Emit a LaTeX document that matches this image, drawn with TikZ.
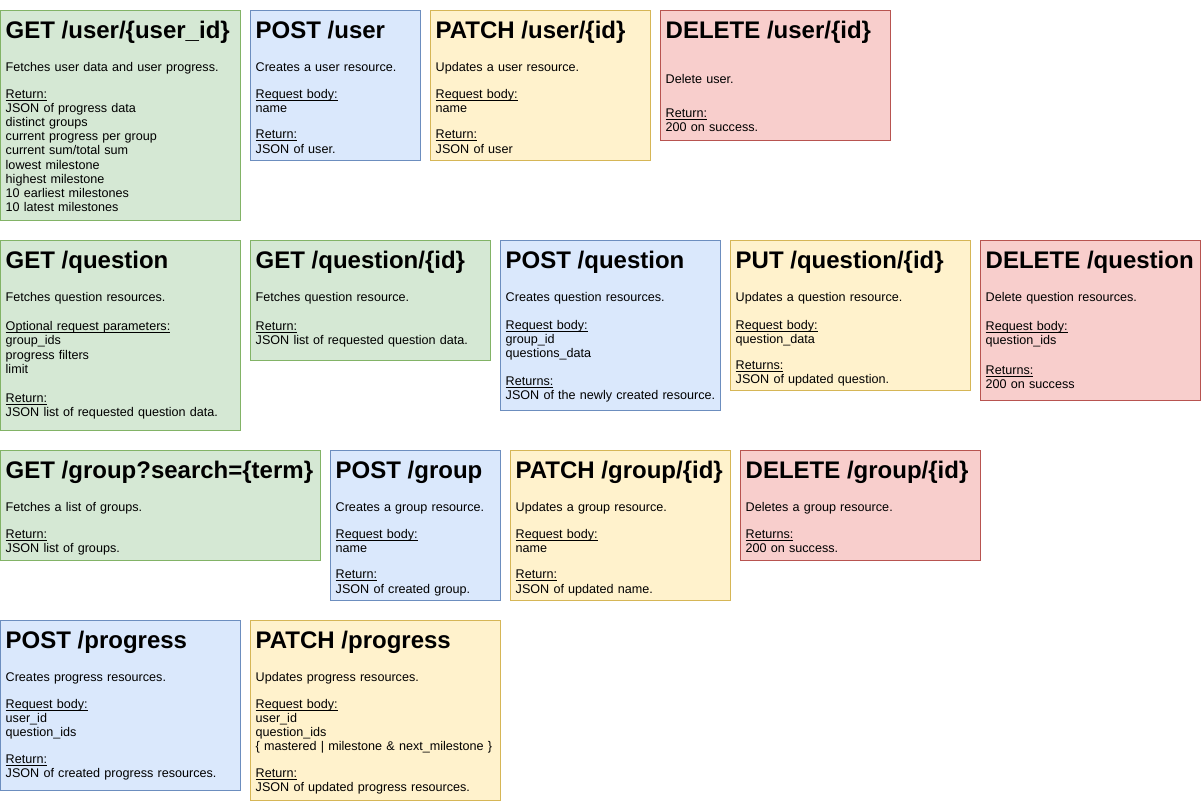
\documentclass[tikz,border=0pt]{standalone}
\usepackage{fontspec}
\setmainfont{Liberation Sans}
\usetikzlibrary{positioning}
\definecolor{getFill}{HTML}{D5E8D4}
\definecolor{getLine}{HTML}{82B366}
\definecolor{postFill}{HTML}{DAE8FC}
\definecolor{postLine}{HTML}{6C8EBF}
\definecolor{patchFill}{HTML}{FFF2CC}
\definecolor{patchLine}{HTML}{D6B656}
\definecolor{delFill}{HTML}{F8CECC}
\definecolor{delLine}{HTML}{B85450}
\newcommand{\fieldlabel}[1]{\leavevmode\setbox0=\hbox{#1}\rlap{\vrule width\wd0 height-1.4pt depth2.4pt}\box0}

\begin{document}
\begin{tikzpicture}[
  api/.style={draw=#1Line,fill=#1Fill,line width=1pt,inner sep=0pt,outer sep=0pt,
    anchor=north west},
  head/.style={font=\fontsize{24}{28}\selectfont\bfseries,inner sep=0pt,
    anchor=base west},
  body/.style={font=\fontsize{12.6}{14.2}\selectfont,align=left,text width=270pt,
    inner sep=0pt,anchor=base west},
]
\useasboundingbox (-0.5pt,0.5pt) rectangle (1200.5pt,-800.5pt);

% User endpoints
\node[api=get,minimum width=240pt,minimum height=210pt] (getuser) at (0pt,-10pt) {};
\node[below right=28pt and 5pt of getuser.north west,head] (getuserH) {GET /user/\{user\_id\}};
\node[below right=61pt and 5pt of getuser.north west,body] (getuserB) {Fetches user data and user progress.\\[12.4pt]
  \fieldlabel{Return:}\\JSON of progress data\\distinct groups\\current progress per group\\current sum/total sum\\
  lowest milestone\\highest milestone\\10 earliest milestones\\10 latest milestones};

\node[right=10pt of getuser.north east,api=post,minimum width=170pt,minimum height=150pt] (postuser) {};
\node[below right=28pt and 5pt of postuser.north west,head] (postuserH) {POST /user};
\node[below right=61pt and 5pt of postuser.north west,body] (postuserB) {Creates a user resource.\\[12.4pt]
  \fieldlabel{Request body:}\\name\\[12.4pt]\fieldlabel{Return:}\\JSON of user.};

\node[right=10pt of postuser.north east,api=patch,minimum width=220pt,minimum height=150pt] (patchuser) {};
\node[below right=28pt and 5pt of patchuser.north west,head] (patchuserH) {PATCH /user/\{id\}};
\node[below right=61pt and 5pt of patchuser.north west,body] (patchuserB) {Updates a user resource.\\[12.4pt]
  \fieldlabel{Request body:}\\name\\[12.4pt]\fieldlabel{Return:}\\JSON of user};

\node[right=10pt of patchuser.north east,api=del,minimum width=230pt,minimum height=130pt] (deluser) {};
\node[below right=28pt and 5pt of deluser.north west,head] (deluserH) {DELETE /user/\{id\}};
\node[below right=73pt and 5pt of deluser.north west,body] (deluserB) {Delete user.\\[19.8pt]
  \fieldlabel{Return:}\\200 on success.};

% Question endpoints
\node[below=20pt of getuser.south west,api=get,minimum width=240pt,minimum height=190pt] (getq) {};
\node[below right=28pt and 5pt of getq.north west,head] (getqH) {GET /question};
\node[below right=61pt and 5pt of getq.north west,body] (getqB) {Fetches question resources.\\[15pt]
  \fieldlabel{Optional request parameters:}\\group\_ids\\progress filters\\limit\\[15pt]
  \fieldlabel{Return:}\\JSON list of requested question data.};

\node[right=10pt of getq.north east,api=get,minimum width=240pt,minimum height=120pt] (getqid) {};
\node[below right=28pt and 5pt of getqid.north west,head] (getqidH) {GET /question/\{id\}};
\node[below right=61pt and 5pt of getqid.north west,body] (getqidB) {Fetches question resource.\\[15pt]
  \fieldlabel{Return:}\\JSON list of requested question data.};

\node[right=10pt of getqid.north east,api=post,minimum width=220pt,minimum height=170pt] (postq) {};
\node[below right=28pt and 5pt of postq.north west,head] (postqH) {POST /question};
\node[below right=61pt and 5pt of postq.north west,body] (postqB) {Creates question resources.\\[13.4pt]
  \fieldlabel{Request body:}\\group\_id\\questions\_data\\[13.4pt]
  \fieldlabel{Returns:}\\JSON of the newly created resource.};

\node[right=10pt of postq.north east,api=patch,minimum width=240pt,minimum height=150pt] (putq) {};
\node[below right=28pt and 5pt of putq.north west,head] (putqH) {PUT /question/\{id\}};
\node[below right=61pt and 5pt of putq.north west,body] (putqB) {Updates a question resource.\\[13.4pt]
  \fieldlabel{Request body:}\\question\_data\\[11.8pt]
  \fieldlabel{Returns:}\\JSON of updated question.};

\node[right=10pt of putq.north east,api=del,minimum width=220pt,minimum height=160pt] (delq) {};
\node[below right=28pt and 5pt of delq.north west,head] (delqH) {DELETE /question};
\node[below right=61pt and 5pt of delq.north west,body] (delqB) {Delete question resources.\\[15pt]
  \fieldlabel{Request body:}\\question\_ids\\[15pt]
  \fieldlabel{Returns:}\\200 on success};

% Group endpoints
\node[below=20pt of getq.south west,api=get,minimum width=320pt,minimum height=110pt] (getgroup) {};
\node[below right=28pt and 5pt of getgroup.north west,head] (getgroupH) {GET /group?search=\{term\}};
\node[below right=61pt and 5pt of getgroup.north west,body] (getgroupB) {Fetches a list of groups.\\[12.4pt]
  \fieldlabel{Return:}\\JSON list of groups.};

\node[right=10pt of getgroup.north east,api=post,minimum width=170pt,minimum height=150pt] (postgroup) {};
\node[below right=28pt and 5pt of postgroup.north west,head] (postgroupH) {POST /group};
\node[below right=61pt and 5pt of postgroup.north west,body] (postgroupB) {Creates a group resource.\\[12.4pt]
  \fieldlabel{Request body:}\\name\\[12.4pt]\fieldlabel{Return:}\\JSON of created group.};

\node[right=10pt of postgroup.north east,api=patch,minimum width=220pt,minimum height=150pt] (patchgroup) {};
\node[below right=28pt and 5pt of patchgroup.north west,head] (patchgroupH) {PATCH /group/\{id\}};
\node[below right=61pt and 5pt of patchgroup.north west,body] (patchgroupB) {Updates a group resource.\\[12.4pt]
  \fieldlabel{Request body:}\\name\\[12.4pt]\fieldlabel{Return:}\\JSON of updated name.};

\node[right=10pt of patchgroup.north east,api=del,minimum width=240pt,minimum height=110pt] (delgroup) {};
\node[below right=28pt and 5pt of delgroup.north west,head] (delgroupH) {DELETE /group/\{id\}};
\node[below right=61pt and 5pt of delgroup.north west,body] (delgroupB) {Deletes a group resource.\\[12.4pt]
  \fieldlabel{Returns:}\\200 on success.};

% Progress endpoints
\node[below=60pt of getgroup.south west,api=post,minimum width=240pt,minimum height=170pt] (postprog) {};
\node[below right=28pt and 5pt of postprog.north west,head] (postprogH) {POST /progress};
\node[below right=61pt and 5pt of postprog.north west,body] (postprogB) {Creates progress resources.\\[12.4pt]
  \fieldlabel{Request body:}\\user\_id\\question\_ids\\[12.4pt]
  \fieldlabel{Return:}\\JSON of created progress resources.};

\node[right=10pt of postprog.north east,api=patch,minimum width=250pt,minimum height=180pt] (patchprog) {};
\node[below right=28pt and 5pt of patchprog.north west,head] (patchprogH) {PATCH /progress};
\node[below right=61pt and 5pt of patchprog.north west,body] (patchprogB) {Updates progress resources.\\[12.4pt]
  \fieldlabel{Request body:}\\user\_id\\question\_ids\\\{ mastered | milestone \& next\_milestone \}\\[12.4pt]
  \fieldlabel{Return:}\\JSON of updated progress resources.};

\end{tikzpicture}
\end{document}
